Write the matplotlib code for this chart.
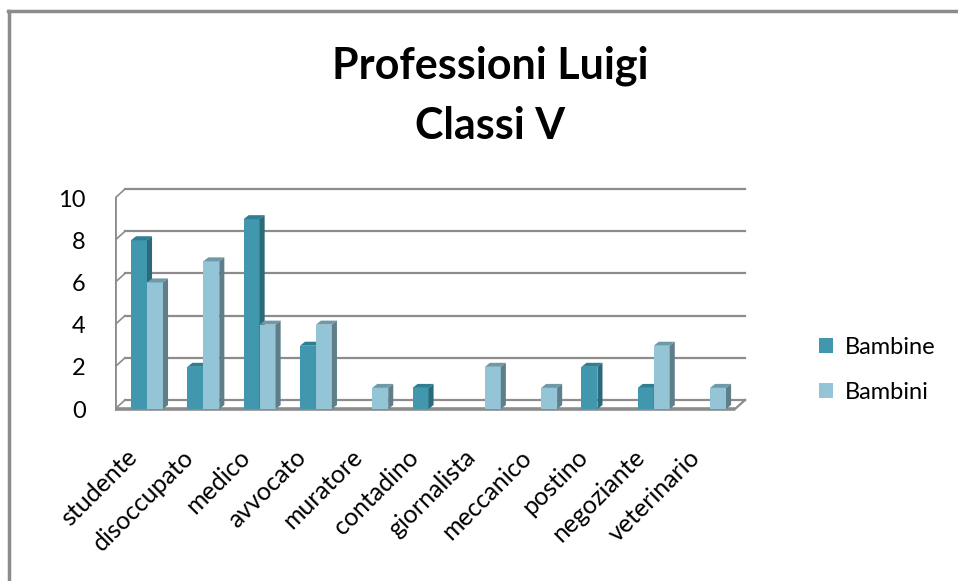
import numpy as np
import matplotlib
matplotlib.use("Agg")
import matplotlib.pyplot as plt
from matplotlib.patches import Polygon, Patch

plt.rcParams['font.family'] = ['Lato', 'DejaVu Sans']

# dati
professioni = ['studente', 'disoccupato', 'medico', 'avvocato', 'muratore', 'contadino',
               'giornalista', 'meccanico', 'postino', 'negoziante', 'veterinario']
bambine = [8, 2, 9, 3, 0, 1, 0, 0, 2, 1, 0]
bambini = [6, 7, 4, 4, 1, 0, 2, 1, 0, 3, 1]

# colori (fronte, lato, sopra)
col_bambine = ('#4197AE', '#2B6A7A', '#2F7E92')
col_bambini = ('#94C5D6', '#5F7E89', '#7099A7')
grigio = '#8C8C8C'

W, H = 958, 581
fig = plt.figure(figsize=(W / 100, H / 100), dpi=100)

# assi in pixel: sinistra 115, destra 750, basso 412, alto 185
ax = fig.add_axes([115 / W, (H - 412) / H, (750 - 115) / W, (412 - 185) / H])
ax.set_xlim(-0.568, 10.71)
ax.set_ylim(-0.142, 10.62)
for s in ax.spines.values():
    s.set_visible(False)

x = np.arange(len(professioni))
w = 0.284          # larghezza barra
bdx, bdy = 0.09, 0.19    # profondita barra
wdx, wdy = 0.178, 0.427  # profondita parete
x_sx, x_dx = -0.568, 10.444

# parete di fondo e parete sinistra
for g in range(0, 11, 2):
    ax.plot([x_sx + wdx, x_dx + wdx], [g + wdy, g + wdy], color=grigio, lw=1.6, zorder=1)
    ax.plot([x_sx, x_sx + wdx], [g, g + wdy], color=grigio, lw=1.2, zorder=1)
ax.plot([x_sx, x_sx], [0, 10], color=grigio, lw=2, zorder=1)
# pavimento
ax.plot([x_sx, x_dx], [0, 0], color=grigio, lw=2.6, zorder=1, solid_capstyle='butt')
ax.plot([x_dx, x_dx + wdx], [0, wdy], color=grigio, lw=1.6, zorder=1)


def barre_3d(xs, vals, colori, z):
    fronte, lato, sopra = colori
    for xi, v in zip(xs, vals):
        if v <= 0:
            continue
        x0, x1 = xi - w / 2, xi + w / 2
        ax.bar(xi, v, width=w, color=fronte, zorder=z)
        ax.add_patch(Polygon([(x0, v), (x1, v), (x1 + bdx, v + bdy), (x0 + bdx, v + bdy)],
                             closed=True, facecolor=sopra, edgecolor='none', zorder=z))
        ax.add_patch(Polygon([(x1, 0), (x1, v), (x1 + bdx, v + bdy), (x1 + bdx, bdy)],
                             closed=True, facecolor=lato, edgecolor='none', zorder=z))


barre_3d(x - w / 2, bambine, col_bambine, 3)
barre_3d(x + w / 2, bambini, col_bambini, 4)

ax.set_yticks(range(0, 11, 2))
ax.tick_params(axis='y', length=0, pad=21, labelsize=17)
ax.set_xticks(x - 0.38)
ax.set_xticklabels(professioni, rotation=45, ha='right', rotation_mode='anchor', fontsize=18)
ax.tick_params(axis='x', length=0, pad=24)

# titolo
fig.text(490 / W, 1 - 66 / H, 'Professioni Luigi', ha='center', va='center',
         fontsize=31, fontweight='bold')
fig.text(490 / W, 1 - 126 / H, 'Classi V', ha='center', va='center',
         fontsize=31, fontweight='bold')

# legenda
maniglie = [Patch(facecolor=col_bambine[0]), Patch(facecolor=col_bambini[0])]
fig.legend(maniglie, ['Bambine', 'Bambini'], loc='center left',
           bbox_to_anchor=(798 / W, 1 - 370 / H), frameon=False, fontsize=17,
           handlelength=0.6, handleheight=0.6, handletextpad=0.5, labelspacing=1.0)

# cornice (solo bordo sinistro e superiore visibili)
fig.add_artist(plt.Line2D([9 / W, 9 / W], [0, 1 - 11 / H], color=grigio, lw=2.5))
fig.add_artist(plt.Line2D([8 / W, 1], [1 - 11 / H, 1 - 11 / H], color=grigio, lw=2.5))

fig.savefig('out.png', dpi=100)
